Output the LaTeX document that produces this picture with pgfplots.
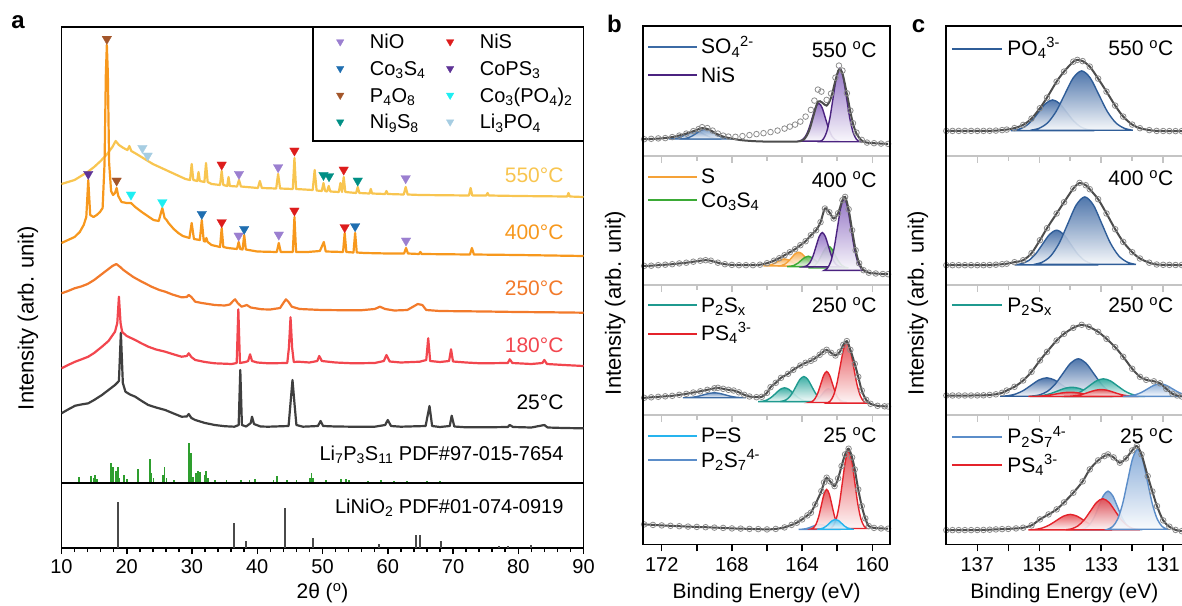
\documentclass[border=0pt]{standalone}
\usepackage{fontspec}
\setmainfont{Liberation Sans}
\usepackage{pgfplots}
\pgfplotsset{compat=1.18}
\usepackage{pgfplotstable}
\newcommand{\fs}[1]{\fontsize{#1}{#1}\selectfont}
\definecolor{c550}{HTML}{F8C550}
\definecolor{c400}{HTML}{F7981D}
\definecolor{c250}{HTML}{F27A2B}
\definecolor{c180}{HTML}{F2464E}
\definecolor{c25}{HTML}{3F3F3F}
\definecolor{cLPS}{HTML}{2E9E2E}
\definecolor{cLNO}{HTML}{4A4A4A}
\definecolor{mNiO}{HTML}{9B7FD0}
\definecolor{mNiS}{HTML}{DD1C1C}
\definecolor{mCoS}{HTML}{1F6EB0}
\definecolor{mCoPS}{HTML}{5E3396}
\definecolor{mPO}{HTML}{A3562A}
\definecolor{mCoPO}{HTML}{1EEEF2}
\definecolor{mNiSS}{HTML}{008F85}
\definecolor{mLiPO}{HTML}{A6CDE2}
\definecolor{kSO}{HTML}{3C6BA5}
\definecolor{fSO}{HTML}{6E93C3}
\definecolor{kNiS}{HTML}{4B2380}
\definecolor{fNiS}{HTML}{8A68C0}
\definecolor{kS}{HTML}{F5A238}
\definecolor{fS}{HTML}{F7A845}
\definecolor{kCoS}{HTML}{3BAA36}
\definecolor{fCoS}{HTML}{4DB548}
\definecolor{kPSx}{HTML}{1F9A8F}
\definecolor{fPSx}{HTML}{2AA79C}
\definecolor{kPS}{HTML}{E4232B}
\definecolor{fPS}{HTML}{E5484D}
\definecolor{kPeS}{HTML}{26B4EE}
\definecolor{fPeS}{HTML}{5BC6F2}
\definecolor{kPSS}{HTML}{5B8DC9}
\definecolor{fPSS}{HTML}{7FA6D6}
\definecolor{kPO}{HTML}{2F5D98}
\definecolor{fPO}{HTML}{3D68A3}
\definecolor{cDat}{HTML}{8C8C8C}
\definecolor{cEnv}{HTML}{4D4D4D}
\definecolor{cDiv}{HTML}{C4C4C4}

\pgfplotsset{
  base/.style={scale only axis, clip=true, axis line style={line width=1.8pt},
    tick style={line width=1.5pt, black},
    /pgf/number format/assume math mode=true,
    tick label style={font=\fs{20}}, xlabel style={font=\fs{21}}, ylabel style={font=\fs{22}}},
  mk/.style={only marks, mark=triangle*, mark size=5.5pt, color=#1, mark options={rotate=180, line width=0.3pt}, forget plot},
  lmk/.style={mark=triangle*, mark size=4.3pt, color=#1, mark options={rotate=180, line width=0.3pt}},
  comp/.style 2 args={draw=#1, line width=1.4pt, top color=#2, bottom color=#2!5, fill opacity=0.9, smooth, forget plot},
  dat/.style={only marks, mark=o, mark size=2.8pt, color=cDat, mark options={line width=0.8pt}, forget plot},
  env/.style={no marks, smooth, color=cEnv, line width=2pt, forget plot},
  sub/.style={base, width=246.7pt, height=129.6pt, x dir=reverse, xmin=158.99, xmax=173.05, ymin=0, ymax=129.6,
    ytick=\empty, axis line style={draw=cDiv}, tick style={cDiv, line width=1.5pt},
    xtick={160,164,168,172}, minor xtick={162,166,170}, xtick pos=right, tick align=inside,
    xticklabels=\empty, major tick length=7pt, minor tick length=5pt,
    legend image code/.code={\draw[##1, line width=2pt] (0pt,0pt) -- (49pt,0pt);},
    legend style={draw=none, fill=none, inner sep=0pt, font=\fs{21}, nodes={inner sep=0pt, text height=18pt, text depth=4pt}, column sep=3pt, cells={anchor=west}, anchor=north west}},
  subc/.style={sub, width=237.3pt, xmin=130.36, xmax=138.02, xtick={131,133,135,137}, minor xtick={132,134,136},
    legend image code/.code={\draw[##1, line width=2pt] (0pt,0pt) -- (50pt,0pt);},
    legend style={column sep=4.5pt}},
}

\pgfplotstableread{
x y
173.0 16.4
172.6 16.8
172.2 17.2
171.8 17.5
171.4 18.5
171.0 20
170.6 22
170.2 24.5
169.9 26.5
169.7 28.4
169.4 27.5
169.1 25
168.8 22
168.5 20
168.2 19
167.8 18.8
167.4 19.5
167.0 20.5
166.6 21.5
166.2 22.4
165.8 23.5
165.4 25
165.0 27
164.7 29
164.4 31
164.1 34
163.8 39
163.5 45.7
163.3 55
163.1 66
162.9 64
162.6 55.7
162.35 62
162.1 78
161.9 90
161.7 85
161.45 62.4
161.25 45
161.1 32.4
160.9 23
160.6 15.7
160.3 13
159.9 12.4
159.5 12
159.1 11.7
}\dBi
\pgfplotstableread{
x y
173.0 16.4
172.2 17
171.4 18.5
170.6 22
170.1 25
169.7 27.5
169.3 26
168.9 22
168.5 19
168.0 17
167.5 15.5
166.8 14.5
166.0 14
165.0 14
164.3 14
163.9 16
163.6 25
163.35 40
163.1 54
162.85 53
162.6 50
162.35 58
162.1 75
161.9 86
161.7 82
161.45 62
161.25 44
161.1 32
160.9 22
160.6 15
160.3 13
159.9 12.4
159.1 11.7
}\eBi
\pgfplotstableread{
x y
173.0 19.3
172.6 19.5
172.2 20
171.8 20.5
171.4 21
171.0 21.8
170.6 22.5
170.2 23.5
169.8 24.5
169.5 25
169.2 24.5
168.8 22.5
168.4 21
168.0 20.3
167.6 20
167.2 20
166.8 20
166.4 20.5
166.0 22
165.6 24.5
165.3 27
165.0 30
164.7 33
164.4 36
164.1 40
163.8 44
163.5 50
163.2 55
162.95 63
162.7 76.7
162.45 73
162.2 66.7
161.95 72
161.7 85
161.55 88.3
161.35 76
161.15 55
160.95 35
160.75 22
160.5 15
160.2 12.5
159.8 11.7
159.4 11.2
159.1 11
}\dBii
\pgfplotstableread{
x y
173.0 17
172.6 17.5
172.2 18
171.8 18.5
171.4 19
171.0 20
170.6 21
170.2 22.3
169.8 23.5
169.4 25
169.0 26.5
168.8 27
168.5 26
168.2 25
167.9 24.3
167.6 22.5
167.3 20
167.0 18.3
166.6 17.6
166.3 18
166.0 22
165.8 27.6
165.5 32
165.2 37
164.8 41
164.5 45
164.1 49.3
163.8 52
163.5 54
163.3 56
163.0 60
162.8 63
162.6 65
162.35 62
162.1 59.3
161.85 63
161.65 70
161.45 73.7
161.25 65
161.0 51
160.8 38
160.6 24.3
160.35 15
160.1 11
159.7 9
159.3 8.5
159.1 8.3
}\dBiii
\pgfplotstableread{
x y
173.0 20
172.5 19.5
172.0 19
171.5 18.6
171.0 18.2
170.5 17.8
170.0 17.5
169.5 17.2
169.0 16.8
168.5 16.5
168.0 16
167.5 15.8
167.0 15.5
166.5 15.3
166.0 15
165.5 15.5
165.0 17
164.6 19.5
164.3 21.7
164.0 25
163.7 29
163.5 31.7
163.25 40
162.9 53.3
162.75 62
162.6 66.7
162.4 63
162.15 58.3
161.95 66
161.75 78.3
161.55 90
161.35 95.7
161.15 87
161.0 75
160.8 55
160.6 38.3
160.4 26
160.2 18.3
159.9 16.5
159.5 16
159.1 15.7
}\dBiv
\pgfplotstableread{
x y
138.0 24.7
137.8 24.7
137.6 24.7
137.4 24.7
137.2 24.7
137.0 24.7
136.8 24.7
136.6 24.8
136.4 25
136.2 25.5
136.05 26
135.8 27.5
135.52 30.7
135.25 37
134.98 47.4
134.75 58
134.44 74
134.2 84
133.9 94
133.77 95.7
133.6 94.5
133.37 89
133.1 77
132.83 64
132.55 50
132.29 39
132.0 31
131.75 27.4
131.45 25.5
131.21 24.7
131.0 24.6
130.8 24.5
130.6 24.5
130.4 24.5
}\dCi
\pgfplotstableread{
x y
138.0 20
137.8 20
137.6 20
137.4 20
137.2 20
137.0 20
136.8 20
136.6 20.2
136.4 20.5
136.2 21
136.05 21.5
135.8 23
135.52 25
135.25 32
134.98 45
134.75 57
134.44 71.7
134.2 83
133.9 96.7
133.7 102.3
133.5 100
133.37 96
133.1 86
132.83 71.7
132.55 56
132.29 43.3
132.0 33
131.75 26.7
131.45 22.5
131.21 20.7
131.0 20.4
130.8 20.3
130.6 20.2
130.4 20.2
}\dCii
\pgfplotstableread{
x y
138.0 19.3
137.8 19.3
137.6 19.3
137.4 19.3
137.2 19.3
137.0 19.4
136.8 19.5
136.6 19.9
136.4 20.5
136.2 22
136.05 24.3
135.8 28
135.52 34.3
135.25 43
134.98 54.3
134.75 63
134.44 74.3
134.2 81
133.9 87
133.63 90
133.4 88
133.1 83
132.83 76
132.55 67.6
132.29 58
132.0 46
131.75 38
131.55 35
131.3 33.5
131.1 31.5
130.9 26
130.7 21
130.55 19.3
130.4 18.3
}\dCiii
\pgfplotstableread{
x y
138.0 14.3
137.8 14.3
137.6 14.3
137.4 14.3
137.2 14.3
137.0 14.4
136.8 14.5
136.6 14.7
136.4 15
136.2 15.3
136.0 15.5
135.75 16
135.52 16.7
135.25 19
134.98 25
134.7 30
134.44 35
134.2 42
133.9 51.7
133.6 63
133.37 75
133.1 84
132.9 88.3
132.78 90
132.6 87
132.4 81.7
132.2 86
132.0 94
131.85 98.3
131.7 90
131.5 68.3
131.35 53
131.2 38.3
131.0 24
130.8 17.7
130.6 14.5
130.4 13.3
}\dCiv

\begin{document}
\begin{tikzpicture}
\path[use as bounding box] (0pt,0pt) rectangle (1182pt,-605pt);

% ================= panel a (upper) =================
\begin{axis}[base, at={(61.5pt,-27pt)}, anchor=north west, width=522pt, height=456pt,
  xmin=10, xmax=90, ymin=0, ymax=456, xtick=\empty, ytick=\empty,
  ylabel={Intensity (arb. unit)}, ylabel style={at={(axis description cs:-0.0642,0.362)}, anchor=center},
  legend columns=2,
  legend style={at={(axis description cs:0.5264,0.9919)}, anchor=north west, draw=none, fill=none,
    inner sep=0pt, font=\fs{20}, nodes={inner sep=0pt, text height=18pt, text depth=4pt},
    row sep=4.7pt, cells={anchor=west},
    /tikz/every odd column/.style={column sep=26pt}, /tikz/every even column/.style={column sep=21pt}},
  legend image code/.code={\draw[#1] plot coordinates {(0pt,0pt)};}]
\addlegendimage{lmk=mNiO}\addlegendentry{NiO}
\addlegendimage{lmk=mNiS}\addlegendentry{NiS}
\addlegendimage{lmk=mCoS}\addlegendentry{Co\textsubscript{3}S\textsubscript{4}}
\addlegendimage{lmk=mCoPS}\addlegendentry{CoPS\textsubscript{3}}
\addlegendimage{lmk=mPO}\addlegendentry{P\textsubscript{4}O\textsubscript{8}}
\addlegendimage{lmk=mCoPO}\addlegendentry{Co\textsubscript{3}(PO\textsubscript{4})\textsubscript{2}}
\addlegendimage{lmk=mNiSS}\addlegendentry{Ni\textsubscript{9}S\textsubscript{8}}
\addlegendimage{lmk=mLiPO}\addlegendentry{Li\textsubscript{3}PO\textsubscript{4}}

% Li7P3S11 reference
\addplot[ycomb, color=cLPS, line width=1.8pt, forget plot] coordinates {
(12.7,6.3) (14.5,7) (14.9,5) (15.1,8) (15.5,4) (17.6,20.3) (17.8,14) (17.95,16.3) (18.3,12) (18.6,15.7)
(18.9,5) (19.6,8) (20.0,4) (21.7,13.7) (23.6,23.7) (23.8,10) (24.1,5) (25.5,8) (25.8,15.7) (26.1,5)
(27.2,3) (29.5,40.3) (29.8,29.7) (30.2,6) (30.6,10) (30.9,12.3) (31.2,11) (32.0,8) (32.2,12.3) (32.5,5)
(33.5,3) (35.3,3) (37.5,3) (38.8,3) (39.6,4) (42.5,3) (43.0,7) (44.5,3) (46,3) (48.1,5) (48.3,10.3)
(48.6,5) (50.5,3) (52.8,4) (53.6,4) (54.0,3) (57,2.5) (59,3) (61,2.5) (63,2.5) (66,2.5) (68,2.5)};

% 25 C
\addplot[color=c25, line width=2.2pt, line join=round, forget plot] coordinates {
(10,69.7) (11,73.5) (12.1,77.3) (13,78.5) (14.1,79.7) (15,83) (16.2,88) (17.2,93) (18.2,98) (18.8,102)
(19.1,150.3) (19.4,100) (19.8,91.3) (20.5,88.5) (21.3,86.3) (22.3,82) (23.3,78) (24.5,75.5) (25.9,73)
(27,70) (28.4,66.3) (29.2,66.5) (29.5,69) (29.9,65) (30.5,63) (32,60) (33.5,58) (35,56.8) (36.5,56.3)
(37.15,58) (37.4,113) (37.65,58) (38.3,56.5) (39.0,60) (39.2,66.3) (39.5,59) (40.5,56.5) (41.7,56.3)
(44.8,57) (45.1,80) (45.4,103) (45.7,80) (46,58) (47,56.3) (49.3,57) (49.7,62) (50.1,57) (52,56.5)
(54.7,56.3) (58,56.3) (59.6,58) (60.0,63) (60.5,57) (62,56.3) (65.8,57) (66.4,77) (66.8,57) (68,56)
(69.5,57) (69.8,67.3) (70.2,56.5) (72,55.7) (75,55.7) (78.4,56) (78.7,58) (79.2,56) (82,55.5) (84,58)
(84.5,55.5) (87,55) (90,54.7)};

% 180 C
\addplot[color=c180, line width=2.2pt, line join=round, forget plot] coordinates {
(10,114.7) (11,118) (12.1,121.3) (13,123.5) (14.1,126.3) (15,130) (16.2,136.3) (17.2,142) (18.2,151.3)
(18.55,160) (18.8,186.3) (19.05,160) (19.3,151) (20,147) (21.3,143) (22.3,139.5) (23.3,136.3) (24.5,133.5)
(25.9,131.3) (27,129) (28.4,126.3) (29.2,127) (29.5,129.7) (29.9,126) (30.5,123) (32,121) (33.5,119.7)
(36.1,119) (36.85,120) (37.1,173.7) (37.35,120) (38.2,121) (38.6,122) (38.9,128.7) (39.2,122) (40,120.5)
(41.7,119.7) (44.6,120) (44.85,135) (45.1,165.7) (45.35,135) (45.6,121) (46.3,121.3) (48,120.5) (49.2,122)
(49.5,127) (49.9,122) (52,120.5) (54.7,119.7) (58,120) (59.4,122) (59.8,128) (60.3,121.5) (62,120.5)
(64.9,121.3) (65.9,123) (66.2,144.7) (66.5,122) (68,121) (69.4,122) (69.7,133.7) (70,121.5) (72,120.5)
(74.2,119.7) (78.4,120) (78.7,123.7) (79.1,120) (82,119) (83.7,120) (84.0,123) (84.4,119) (87,118) (90,117)};

% 250 C
\addplot[color=c250, line width=2.2pt, line join=round, forget plot] coordinates {
(10,189.7) (11,192) (12,194.7) (13,196.5) (14,199) (15,203) (16,208) (17,213) (17.8,217) (18.4,219)
(19,216) (19.5,213) (20.2,209.7) (21,206) (22.3,201.3) (23,199) (23.8,196.3) (25,193) (25.9,191.3)
(27,188.5) (28.4,185.7) (29.2,186) (29.5,188) (29.9,186) (30.5,181.3) (31.5,180) (33.5,178) (35,177.5)
(35.8,178.5) (36.3,182) (36.6,183.7) (37.0,180) (37.6,176.3) (38.4,178) (39,175.5) (40.7,173.7) (42,173.5)
(43.5,175) (44.0,180) (44.4,183.7) (44.8,181) (45.3,176.3) (46.5,174) (49.9,173) (53,172.8) (56,172.8)
(58,174) (58.8,176.3) (59.6,174) (61,172.5) (63,173) (63.8,176) (64.6,179) (65.3,178) (65.9,173) (68,172)
(75,171.5) (80,171) (85,170.7) (90,170.3)};

% 550 C
\addplot[color=c550, line width=2.2pt, line join=round, forget plot] coordinates {
(10,299) (11,301) (12,303) (13,307) (14,311) (15,316) (16,322) (17,329) (17.8,336) (18.3,342) (18.8,338)
(19.5,335) (20.1,333) (20.4,337) (20.7,332) (21.5,329) (22,327) (23,323) (24,319) (25,316) (26,313) (27,310)
(28,307) (29,304) (29.7,303) (29.95,319) (30.2,303) (30.8,302) (31.0,311) (31.2,302) (31.9,301) (32.15,320)
(32.4,301) (33,299) (34.3,298) (34.55,312) (34.8,298) (35.4,297) (35.6,306) (35.8,297) (36.9,296.5)
(37.2,303) (37.5,296.5) (40.1,295) (40.4,302) (40.7,295) (42.9,294.5) (43.2,309) (43.5,294.5) (45.45,294)
(45.7,325) (45.95,294) (48.5,293) (48.8,313) (49.1,292.5) (49.9,292) (50.15,300) (50.4,292) (50.7,291.5)
(50.95,297) (51.2,291.5) (52.5,291) (52.75,300) (53.0,291) (53.25,306) (53.5,291) (55.15,290) (55.4,296)
(55.65,290) (57.2,289.5) (57.4,294) (57.6,289.5) (59.6,289) (59.8,292) (60.0,289) (62.45,288.5)
(62.75,296) (63.05,288.5) (65,288) (72.45,287.5) (72.7,295) (72.95,287.5) (75.1,287.5) (75.3,290)
(75.5,287.5) (80,287) (87.5,286.5) (87.7,290) (87.9,286.5) (90,286)};

% 400 C
\addplot[color=c400, line width=2.2pt, line join=round, forget plot] coordinates {
(10,240) (11,243) (12,246) (12.8,251) (13.4,258) (13.8,266) (14.1,303) (14.4,268) (14.9,266) (15.4,268)
(15.9,271) (16.3,275) (16.6,320) (16.8,410) (16.95,438) (17.1,410) (17.3,320) (17.6,292) (17.9,288)
(18.2,290) (18.45,295) (18.7,287) (19.2,281) (20,280) (20.65,280) (21.3,276) (22.3,271) (23.2,267)
(24.1,263) (24.9,262) (25.45,275) (25.8,265) (26.1,263) (26.4,260) (27.2,254) (27.9,250) (28.6,247)
(29.6,245) (29.95,260) (30.3,244) (31.2,243) (31.5,263) (31.8,242) (32.0,241.5) (32.2,245) (32.4,241)
(33,238) (34.3,236) (34.55,255) (34.8,236) (35.5,235) (36.9,234) (37.15,241) (37.4,234) (37.75,233.5)
(38.0,248) (38.25,233.5) (40,231.5) (43.0,231) (43.3,240) (43.6,231) (45.45,231) (45.7,266) (45.95,231)
(47.7,231) (49.6,232) (50.2,241) (50.5,231.5) (53.15,231) (53.4,250) (53.65,231) (54.75,230.5) (55.0,250)
(55.25,230.5) (56.5,230) (60,229.5) (62.5,229.5) (62.8,235) (63.1,229.5) (64.8,229) (65.0,231) (65.2,229)
(72.6,228.5) (72.9,235) (73.2,228.5) (80,228) (90,227)};

% phase markers
\addplot[mk=mNiO] coordinates {(37.2,309) (43.2,315.7) (62.75,304.7) (37.15,247.3) (43.3,248.3) (62.8,242.3)};
\addplot[mk=mNiS] coordinates {(34.55,318.3) (45.7,332.3) (53.25,313.3) (34.55,260.7) (45.7,272.3) (53.4,255.7)};
\addplot[mk=mCoS] coordinates {(31.5,269) (38.0,254) (55.0,256.7)};
\addplot[mk=mCoPS] coordinates {(14.1,309)};
\addplot[mk=mPO] coordinates {(16.95,444) (18.45,302.3)};
\addplot[mk=mCoPO] coordinates {(20.65,288.3) (25.45,280.7)};
\addplot[mk=mNiSS] coordinates {(50.15,308) (51.0,306.7) (55.4,302.3)};
\addplot[mk=mLiPO] coordinates {(22.4,335) (23.2,327.3)};
\end{axis}
\draw[line width=1.8pt] (313pt,-27pt) rectangle (583.5pt,-141pt);

% ================= panel a (lower) =================
\begin{axis}[base, at={(61.5pt,-483pt)}, anchor=north west, width=522pt, height=65pt,
  xmin=10, xmax=90, ymin=0, ymax=65, ytick=\empty, xtick={10,20,...,90}, minor x tick num=4,
  tick align=outside, xtick pos=left, major tick length=6pt, minor tick length=4pt,
  xticklabel style={yshift=-2pt},
  xlabel={2θ (\textsuperscript{o})}, xlabel style={at={(axis description cs:0.5,0)}, anchor=center, yshift=-45pt}]
\addplot[ycomb, color=cLNO, line width=2pt] coordinates {
(18.6,46) (36.5,25) (38.2,7) (44.3,40) (48.5,10) (58.6,4) (64.4,13) (64.9,13) (68.1,7) (77.0,2) (78.5,2) (82.0,3)};
\end{axis}

\node[anchor=base east, font=\fs{21}, text=c550] at (567pt,-182.5pt) {550°C};
\node[anchor=base east, font=\fs{21}, text=c400] at (567pt,-239.2pt) {400°C};
\node[anchor=base east, font=\fs{21}, text=c250] at (567pt,-295.8pt) {250°C};
\node[anchor=base east, font=\fs{21}, text=c180] at (567pt,-352.5pt) {180°C};
\node[anchor=base east, font=\fs{21}, text=black] at (567pt,-409.2pt) {25°C};
\node[anchor=base east, font=\fs{20}, text=black] at (567pt,-460.8pt) {Li\textsubscript{7}P\textsubscript{3}S\textsubscript{11} PDF\#97-015-7654};
\node[anchor=base east, font=\fs{20}, text=black] at (567pt,-513.5pt) {LiNiO\textsubscript{2} PDF\#01-074-0919};

% ================= panel b =================
\begin{axis}[sub, at={(643.3pt,-26pt)}, anchor=north west, xtick=\empty, minor xtick={},
  legend style={at={(axis description cs:0.015,0.9252)}, row sep=6.3pt}]
\addlegendimage{color=kSO}\addlegendentry{SO\textsubscript{4}\textsuperscript{2-}}
\addlegendimage{color=kNiS}\addlegendentry{NiS}
\addplot[comp={kSO}{fSO}] coordinates {(171.6,16.6) (171.35,16.85) (171.1,17.6) (170.85,19.1) (170.6,21.35) (170.35,23.56) (170.1,24.5) (169.85,23.56) (169.6,21.35) (169.35,19.1) (169.1,17.6) (168.85,16.85) (168.6,16.6)} -- cycle;
\addplot[comp={kSO}{fSO}] coordinates {(171.0,16.6) (170.75,16.94) (170.5,17.85) (170.25,19.75) (170.0,22.57) (169.75,25.3) (169.5,26.5) (169.25,25.3) (169.0,22.57) (168.75,19.75) (168.5,17.85) (168.25,16.94) (168.0,16.6)} -- cycle;
\addplot[comp={kNiS}{fNiS}] coordinates {(164.19,14.43) (164.0,15.69) (163.81,19.2) (163.62,26.47) (163.43,37.29) (163.24,47.89) (163.05,52.4) (162.86,47.89) (162.67,37.29) (162.48,26.47) (162.29,19.2) (162.1,15.69) (161.91,14.43)} -- cycle;
\addplot[comp={kNiS}{fNiS}] coordinates {(162.99,13.83) (162.8,16.27) (162.61,23.07) (162.42,37.16) (162.23,58.12) (162.04,78.66) (161.85,87.4) (161.66,78.66) (161.47,58.12) (161.28,37.16) (161.09,23.07) (160.9,16.27) (160.71,13.83)} -- cycle;
\addplot[env] table {\eBi};
\addplot[dat] table {\dBi};
\node[anchor=base east, font=\fs{21}] at (axis description cs:0.9595,0.757) {550 \textsuperscript{o}C};
\end{axis}

\begin{axis}[sub, at={(643.3pt,-155.6pt)}, anchor=north west,
  legend style={at={(axis description cs:0.015,0.922)}, row sep=1.3pt}]
\addlegendimage{color=kS}\addlegendentry{S}
\addlegendimage{color=kCoS}\addlegendentry{Co\textsubscript{3}S\textsubscript{4}}
\addplot[comp={kS}{fS}] coordinates {(166.2,19.38) (166.0,19.61) (165.8,20.25) (165.6,21.57) (165.4,23.55) (165.2,25.48) (165.0,26.3) (164.8,25.48) (164.6,23.55) (164.4,21.57) (164.2,20.25) (164.0,19.61) (163.8,19.38)} -- cycle;
\addplot[comp={kS}{fS}] coordinates {(165.4,19.16) (165.2,19.61) (165.0,20.89) (164.8,23.55) (164.6,27.49) (164.4,31.36) (164.2,33) (164.0,31.36) (163.8,27.49) (163.6,23.55) (163.4,20.89) (163.2,19.61) (163.0,19.16)} -- cycle;
\addplot[comp={kCoS}{fCoS}] coordinates {(164.85,18.62) (164.65,18.96) (164.45,19.92) (164.25,21.91) (164.05,24.87) (163.85,27.77) (163.65,29) (163.45,27.77) (163.25,24.87) (163.05,21.91) (162.85,19.92) (162.65,18.96) (162.45,18.62)} -- cycle;
\addplot[comp={kCoS}{fCoS}] coordinates {(163.64,17.24) (163.45,17.97) (163.26,19.98) (163.07,24.14) (162.88,30.34) (162.69,36.42) (162.5,39) (162.31,36.42) (162.12,30.34) (161.93,24.14) (161.74,19.98) (161.55,17.97) (161.36,17.24)} -- cycle;
\addplot[comp={kNiS}{fNiS}] coordinates {(163.9,18.39) (163.725,19.52) (163.55,22.69) (163.375,29.27) (163.2,39.05) (163.025,48.62) (162.85,52.7) (162.675,48.62) (162.5,39.05) (162.325,29.27) (162.15,22.69) (161.975,19.52) (161.8,18.39)} -- cycle;
\addplot[comp={kNiS}{fNiS}] coordinates {(162.74,14.81) (162.55,17.19) (162.36,23.84) (162.17,37.61) (161.98,58.09) (161.79,78.16) (161.6,86.7) (161.41,78.16) (161.22,58.09) (161.03,37.61) (160.84,23.84) (160.65,17.19) (160.46,14.81)} -- cycle;
\addplot[env] table {\dBii};
\addplot[dat] table {\dBii};
\node[anchor=base east, font=\fs{21}] at (axis description cs:0.9595,0.755) {400 \textsuperscript{o}C};
\end{axis}

\begin{axis}[sub, at={(643.3pt,-285.2pt)}, anchor=north west,
  legend style={at={(axis description cs:0.015,0.932)}, row sep=6.3pt}]
\addlegendimage{color=kPSx}\addlegendentry{P\textsubscript{2}S\textsubscript{x}}
\addlegendimage{color=kPS}\addlegendentry{PS\textsubscript{4}\textsuperscript{3-}}
\addplot[comp={kSO}{fSO}] coordinates {(170.8,17.06) (170.5,17.22) (170.2,17.68) (169.9,18.62) (169.6,20.03) (169.3,21.41) (169.0,22) (168.7,21.41) (168.4,20.03) (168.1,18.62) (167.8,17.68) (167.5,17.22) (167.2,17.06)} -- cycle;
\addplot[comp={kPSx}{fPSx}] coordinates {(166.5,13.16) (166.25,13.61) (166.0,14.89) (165.75,17.55) (165.5,21.49) (165.25,25.36) (165.0,27) (164.75,25.36) (164.5,21.49) (164.25,17.55) (164.0,14.89) (163.75,13.61) (163.5,13.16)} -- cycle;
\addplot[comp={kPSx}{fPSx}] coordinates {(165.25,13.28) (165.025,14.11) (164.8,16.42) (164.575,21.21) (164.35,28.34) (164.125,35.33) (163.9,38.3) (163.675,35.33) (163.45,28.34) (163.225,21.21) (163.0,16.42) (162.775,14.11) (162.55,13.28)} -- cycle;
\addplot[comp={kPSS}{fPSS}] coordinates {(163.55,12.75) (163.375,13.19) (163.2,14.41) (163.025,16.95) (162.85,20.73) (162.675,24.43) (162.5,26) (162.325,24.43) (162.15,20.73) (161.975,16.95) (161.8,14.41) (161.625,13.19) (161.45,12.75)} -- cycle;
\addplot[comp={kPS}{fPS}] coordinates {(163.59,12.35) (163.425,13.37) (163.26,16.23) (163.095,22.16) (162.93,30.98) (162.765,39.62) (162.6,43.3) (162.435,39.62) (162.27,30.98) (162.105,22.16) (161.94,16.23) (161.775,13.37) (161.61,12.35)} -- cycle;
\addplot[comp={kPS}{fPS}] coordinates {(162.59,11.68) (162.4,13.7) (162.21,19.33) (162.02,31.0) (161.83,48.36) (161.64,65.36) (161.45,72.6) (161.26,65.36) (161.07,48.36) (160.88,31.0) (160.69,19.33) (160.5,13.7) (160.31,11.68)} -- cycle;
\addplot[env] table {\dBiii};
\addplot[dat] table {\dBiii};
\node[anchor=base east, font=\fs{21}] at (axis description cs:0.9595,0.789) {250 \textsuperscript{o}C};
\end{axis}

\begin{axis}[sub, at={(643.3pt,-414.8pt)}, anchor=north west,
  legend style={at={(axis description cs:0.015,0.923)}, row sep=2.2pt}]
\addlegendimage{color=kPeS}\addlegendentry{P=S}
\addlegendimage{color=kPSS}\addlegendentry{P\textsubscript{2}S\textsubscript{7}\textsuperscript{4-}}
\addplot[comp={kPSS}{fPSS}] coordinates {(164.2,15.06) (164.0,15.22) (163.8,15.68) (163.6,16.62) (163.4,18.03) (163.2,19.41) (163.0,20) (162.8,19.41) (162.6,18.03) (162.4,16.62) (162.2,15.68) (162.0,15.22) (161.8,15.06)} -- cycle;
\addplot[comp={kPS}{fPS}] coordinates {(163.5,15.44) (163.35,16.76) (163.2,20.41) (163.05,27.99) (162.9,39.26) (162.75,50.3) (162.6,55) (162.45,50.3) (162.3,39.26) (162.15,27.99) (162.0,20.41) (161.85,16.76) (161.7,15.44)} -- cycle;
\addplot[comp={kPS}{fPS}] coordinates {(162.4,15.87) (162.225,18.44) (162.05,25.59) (161.875,40.42) (161.7,62.49) (161.525,84.1) (161.35,93.3) (161.175,84.1) (161.0,62.49) (160.825,40.42) (160.65,25.59) (160.475,18.44) (160.3,15.87)} -- cycle;
\addplot[comp={kPeS}{fPeS}] coordinates {(163.15,15.11) (162.975,15.44) (162.8,16.35) (162.625,18.25) (162.45,21.07) (162.275,23.83) (162.1,25) (161.925,23.83) (161.75,21.07) (161.575,18.25) (161.4,16.35) (161.225,15.44) (161.05,15.11)} -- cycle;
\addplot[env] table {\dBiv};
\addplot[dat] table {\dBiv};
\node[anchor=base east, font=\fs{21}] at (axis description cs:0.9595,0.785) {25 \textsuperscript{o}C};
\end{axis}

\begin{axis}[base, at={(643.3pt,-26pt)}, anchor=north west, width=246.7pt, height=518.4pt,
  x dir=reverse, xmin=158.99, xmax=173.05, ymin=0, ymax=1, ytick=\empty,
  xtick={160,164,168,172}, minor xtick={162,166,170}, xtick pos=left, tick align=outside,
  major tick length=7pt, minor tick length=7pt, xticklabel style={yshift=-3pt},
  xlabel={Binding Energy (eV)}, xlabel style={at={(axis description cs:0.5,0)}, anchor=center, yshift=-49pt},
  ylabel={Intensity (arb. unit)}, ylabel style={at={(axis description cs:-0.1135,0.4657)}, anchor=center}]
\end{axis}

% ================= panel c =================
\begin{axis}[subc, at={(945.7pt,-26pt)}, anchor=north west, xtick=\empty, minor xtick={},
  legend style={at={(axis description cs:0.0211,0.9128)}}]
\addlegendimage{color=kPO}\addlegendentry{PO\textsubscript{4}\textsuperscript{3-}}
\addplot[comp={kPO}{fPO}] coordinates {(135.92,25.04) (135.695,26.06) (135.47,28.89) (135.245,34.77) (135.02,43.5) (134.795,52.06) (134.57,55.7) (134.345,52.06) (134.12,43.5) (133.895,34.77) (133.67,28.89) (133.445,26.06) (133.22,25.04)} -- cycle;
\addplot[comp={kPO}{fPO}] coordinates {(135.28,25.37) (135.005,27.33) (134.73,32.82) (134.455,44.18) (134.18,61.09) (133.905,77.65) (133.63,84.7) (133.355,77.65) (133.08,61.09) (132.805,44.18) (132.53,32.82) (132.255,27.33) (131.98,25.37)} -- cycle;
\addplot[env] table {\dCi};
\addplot[dat] table {\dCi};
\node[anchor=base east, font=\fs{21}] at (axis description cs:0.9735,0.77) {550 \textsuperscript{o}C};
\end{axis}

\begin{axis}[subc, at={(945.7pt,-155.6pt)}, anchor=north west]
\addplot[comp={kPO}{fPO}] coordinates {(135.79,20.39) (135.565,21.54) (135.34,24.74) (135.115,31.36) (134.89,41.23) (134.665,50.89) (134.44,55) (134.215,50.89) (133.99,41.23) (133.765,31.36) (133.54,24.74) (133.315,21.54) (133.09,20.39)} -- cycle;
\addplot[comp={kPO}{fPO}] coordinates {(135.18,20.76) (134.905,23.0) (134.63,29.24) (134.355,42.18) (134.08,61.42) (133.805,80.27) (133.53,88.3) (133.255,80.27) (132.98,61.42) (132.705,42.18) (132.43,29.24) (132.155,23.0) (131.88,20.76)} -- cycle;
\addplot[env] table {\dCii};
\addplot[dat] table {\dCii};
\node[anchor=base east, font=\fs{21}] at (axis description cs:0.9735,0.768) {400 \textsuperscript{o}C};
\end{axis}

\begin{axis}[subc, at={(945.7pt,-285.2pt)}, anchor=north west,
  legend style={at={(axis description cs:0.0211,0.932)}}]
\addlegendimage{color=kPSx}\addlegendentry{P\textsubscript{2}S\textsubscript{x}}
\addplot[comp={kPO}{fPO}] coordinates {(136.26,18.51) (136.01,19.12) (135.76,20.83) (135.51,24.37) (135.26,29.64) (135.01,34.8) (134.76,37) (134.51,34.8) (134.26,29.64) (134.01,24.37) (133.76,20.83) (133.51,19.12) (133.26,18.51)} -- cycle;
\addplot[comp={kPO}{fPO}] coordinates {(135.24,18.72) (134.99,19.95) (134.74,23.4) (134.49,30.54) (134.24,41.17) (133.99,51.57) (133.74,56) (133.49,51.57) (133.24,41.17) (132.99,30.54) (132.74,23.4) (132.49,19.95) (132.24,18.72)} -- cycle;
\addplot[comp={kPSx}{fPSx}] coordinates {(135.3,18.4) (135.075,18.71) (134.85,19.56) (134.625,21.32) (134.4,23.94) (134.175,26.51) (133.95,27.6) (133.725,26.51) (133.5,23.94) (133.275,21.32) (133.05,19.56) (132.825,18.71) (132.6,18.4)} -- cycle;
\addplot[comp={kPSx}{fPSx}] coordinates {(134.28,18.5) (134.055,19.08) (133.83,20.69) (133.605,24.05) (133.38,29.04) (133.155,33.92) (132.93,36) (132.705,33.92) (132.48,29.04) (132.255,24.05) (132.03,20.69) (131.805,19.08) (131.58,18.5)} -- cycle;
\addplot[comp={kPS}{fPS}] coordinates {(135.35,18.35) (135.125,18.49) (134.9,18.88) (134.675,19.7) (134.45,20.91) (134.225,22.09) (134.0,22.6) (133.775,22.09) (133.55,20.91) (133.325,19.7) (133.1,18.88) (132.875,18.49) (132.65,18.35)} -- cycle;
\addplot[comp={kPS}{fPS}] coordinates {(134.2,18.38) (134.0,18.61) (133.8,19.25) (133.6,20.57) (133.4,22.55) (133.2,24.48) (133.0,25.3) (132.8,24.48) (132.6,22.55) (132.4,20.57) (132.2,19.25) (132.0,18.61) (131.8,18.38)} -- cycle;
\addplot[comp={kPSS}{fPSS}] coordinates {(132.3,18.44) (132.1,18.86) (131.9,20.02) (131.7,22.42) (131.5,26.0) (131.3,29.51) (131.1,31) (130.9,29.51) (130.7,26.0) (130.5,22.42) (130.3,20.02) (130.1,18.86) (129.9,18.44)} -- cycle;
\addplot[env] table {\dCiii};
\addplot[dat] table {\dCiii};
\node[anchor=base east, font=\fs{21}] at (axis description cs:0.9735,0.789) {250 \textsuperscript{o}C};
\end{axis}

\begin{axis}[subc, at={(945.7pt,-414.8pt)}, anchor=north west,
  legend style={at={(axis description cs:0.0211,0.916)}, row sep=6.3pt}]
\addlegendimage{color=kPSS}\addlegendentry{P\textsubscript{2}S\textsubscript{7}\textsuperscript{4-}}
\addlegendimage{color=kPS}\addlegendentry{PS\textsubscript{4}\textsuperscript{3-}}
\addplot[comp={kPS}{fPS}] coordinates {(135.35,14.47) (135.125,14.99) (134.9,16.42) (134.675,19.4) (134.45,23.82) (134.225,28.16) (134.0,30) (133.775,28.16) (133.55,23.82) (133.325,19.4) (133.1,16.42) (132.875,14.99) (132.65,14.47)} -- cycle;
\addplot[comp={kPSS}{fPSS}] coordinates {(133.68,14.73) (133.53,16.01) (133.38,19.58) (133.23,26.96) (133.08,37.95) (132.93,48.72) (132.78,53.3) (132.63,48.72) (132.48,37.95) (132.33,26.96) (132.18,19.58) (132.03,16.01) (131.88,14.73)} -- cycle;
\addplot[comp={kPS}{fPS}] coordinates {(134.15,14.65) (133.95,15.68) (133.75,18.55) (133.55,24.5) (133.35,33.34) (133.15,42.01) (132.95,45.7) (132.75,42.01) (132.55,33.34) (132.35,24.5) (132.15,18.55) (131.95,15.68) (131.75,14.65)} -- cycle;
\addplot[comp={kPSS}{fPSS}] coordinates {(132.79,15.2) (132.63,17.84) (132.47,25.22) (132.31,40.5) (132.15,63.25) (131.99,85.52) (131.83,95) (131.67,85.52) (131.51,63.25) (131.35,40.5) (131.19,25.22) (131.03,17.84) (130.87,15.2)} -- cycle;
\addplot[env] table {\dCiv};
\addplot[dat] table {\dCiv};
\node[anchor=base east, font=\fs{21}] at (axis description cs:0.9735,0.778) {25 \textsuperscript{o}C};
\end{axis}

\begin{axis}[base, at={(945.7pt,-26pt)}, anchor=north west, width=237.3pt, height=518.4pt,
  x dir=reverse, xmin=130.36, xmax=138.02, ymin=0, ymax=1, ytick=\empty,
  xtick={131,133,135,137}, minor xtick={132,134,136}, xtick pos=left, tick align=outside,
  major tick length=7pt, minor tick length=7pt, xticklabel style={yshift=-3pt},
  xlabel={Binding Energy (eV)}, xlabel style={at={(axis description cs:0.5,0)}, anchor=center, yshift=-49pt},
  ylabel={Intensity (arb. unit)}, ylabel style={at={(axis description cs:-0.1167,0.4657)}, anchor=center}]
\end{axis}

\node[font=\bfseries\fs{24}] at (18pt,-22pt) {a};
\node[font=\bfseries\fs{24}] at (614.5pt,-24pt) {b};
\node[font=\bfseries\fs{24}] at (918.5pt,-26pt) {c};
\end{tikzpicture}
\end{document}
